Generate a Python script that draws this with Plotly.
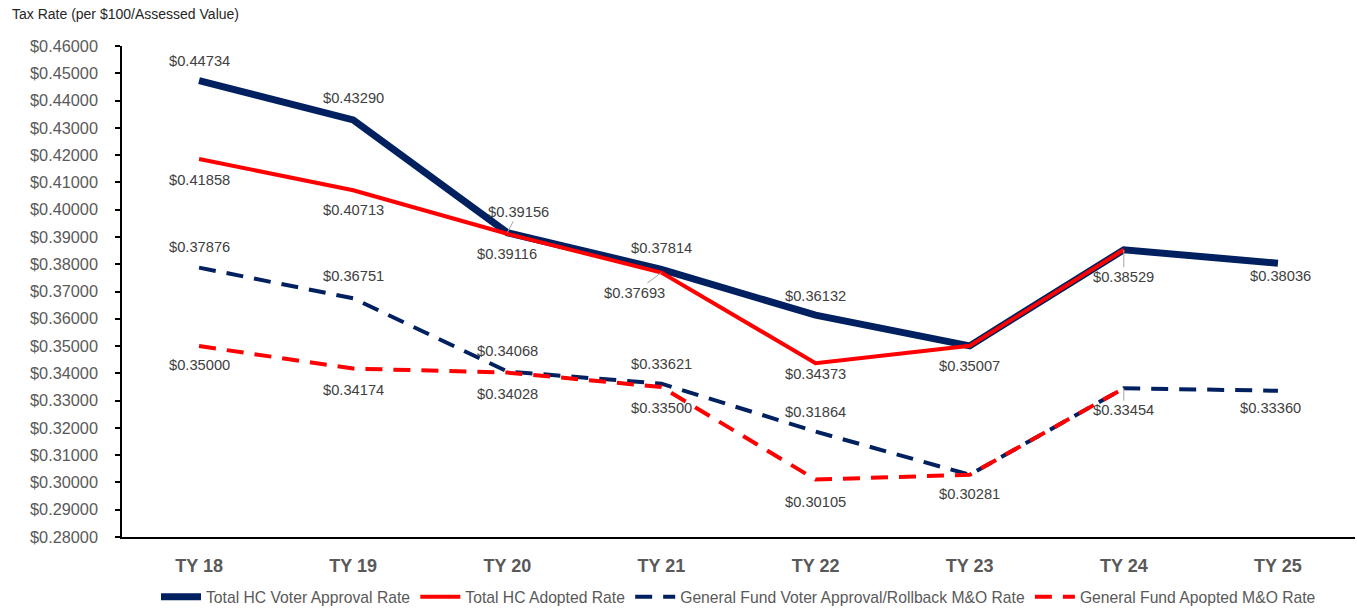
import plotly.graph_objects as go

categories = ["TY 18", "TY 19", "TY 20", "TY 21", "TY 22", "TY 23", "TY 24", "TY 25"]
hc_voter_approval = [0.44734, 0.43290, 0.39156, 0.37814, 0.36132, 0.35007, 0.38529, 0.38036]
hc_adopted = [0.41858, 0.40713, 0.39116, 0.37693, 0.34373, 0.35007, 0.38529, None]
gf_voter_approval = [0.37876, 0.36751, 0.34068, 0.33621, 0.31864, 0.30281, 0.33454, 0.33360]
gf_adopted = [0.35000, 0.34174, 0.34028, 0.33500, 0.30105, 0.30281, 0.33454, None]

series_names = [
    "Total HC Voter Approval Rate",
    "Total HC Adopted Rate",
    "General Fund Voter Approval/Rollback M&O Rate",
    "General Fund Apopted M&O Rate",
]

# label placement (pixel offsets: dx right, dy down; leader = draw a gray leader line)
label_layout = {
    0: [(0, -20, False), (0, -22, False), (11, -21, True), (0, -21, False), (0, -19, False), None, None, (3, 13, False)],
    1: [(0, 21, False), (0, 20, False), (0, 20, False), (-27, 20, True), (0, 11, False), (0, 20, False), (0, 27, True), None],
    2: [(0, -21, False), (0, -22, False), (0, -20, False), (0, -20, False), (0, -20, False), None, None, (-7, 17, False)],
    3: [(0, 19, False), (0, 21, False), (0, 21, False), (0, 21, False), (0, 22, False), (0, 19, False), (0, 22, True), None],
}

navy = "#002060"
red = "#FF0000"
styles = [
    dict(color=navy, width=7),
    dict(color=red, width=4),
    dict(color=navy, width=4, dash="17px,11px"),
    dict(color=red, width=4, dash="17px,11px"),
]
all_series = [hc_voter_approval, hc_adopted, gf_voter_approval, gf_adopted]

fig = go.Figure()
for name, vals, st in zip(series_names, all_series, styles):
    fig.add_trace(go.Scatter(x=categories, y=vals, mode="lines", name=name, line=st,
                             connectgaps=False, hoverinfo="skip"))

annotations = []
for si, vals in enumerate(all_series):
    for ci, v in enumerate(vals):
        pos = label_layout[si][ci]
        if v is None or pos is None:
            continue
        dx, dy, leader = pos
        common = dict(x=categories[ci], y=v, xref="x", yref="y", text=f"${v:.5f}",
                      font=dict(family="Arial, Liberation Sans", size=14.7, color="#404040"))
        if leader:
            annotations.append(dict(**common, showarrow=True, ax=dx, ay=dy, arrowhead=0,
                                    arrowwidth=1, arrowcolor="#A6A6A6", standoff=0))
        else:
            annotations.append(dict(**common, showarrow=False, xshift=dx, yshift=-dy))

annotations.append(dict(text="Tax Rate (per $100/Assessed Value)", xref="paper", yref="paper",
                        x=-112 / 1233, y=1 + 32 / 491, xanchor="left", yanchor="middle",
                        showarrow=False,
                        font=dict(family="Arial, Liberation Sans", size=14, color="#262626")))

fig.update_layout(
    width=1357, height=611,
    margin=dict(l=122, r=2, t=46, b=74),
    paper_bgcolor="white", plot_bgcolor="white",
    font=dict(family="Arial, Liberation Sans", color="#595959"),
    showlegend=True,
    legend=dict(orientation="h", x=0.5, xanchor="center", yref="container", y=1 - 597 / 611,
                yanchor="middle", font=dict(size=15.7, color="#595959"), itemwidth=40,
                tracegroupgap=0),
    annotations=annotations,
)
fig.update_xaxes(type="category", range=[-0.5, 7.5], showgrid=False, showline=True,
                 linecolor="black", linewidth=1.5, ticks="", ticklabelstandoff=12, automargin=False,
                 tickfont=dict(family="Arial, Liberation Sans", size=18, color="#595959", weight="bold"))
fig.update_yaxes(range=[0.28, 0.46], dtick=0.01, tick0=0.28, tickformat="$.5f", showgrid=False,
                 showline=True, linecolor="black", linewidth=1.5, ticks="outside", ticklen=5,
                 tickcolor="black", tickwidth=1.5, ticklabelstandoff=14, zeroline=False, automargin=False,
                 tickfont=dict(family="Arial, Liberation Sans", size=16.3, color="#595959"))

fig.write_html("out.html", config={"displayModeBar": False},
               post_script="document.body.style.margin='0';")
